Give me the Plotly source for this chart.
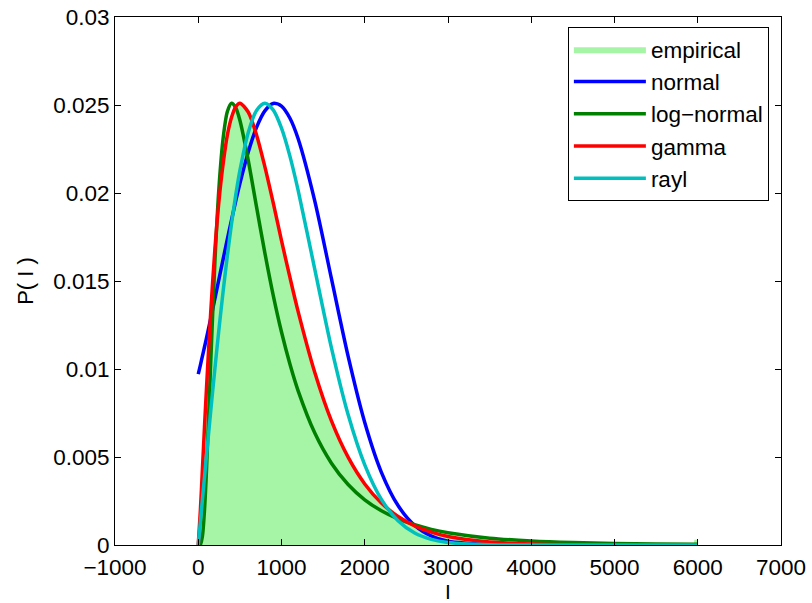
import plotly.graph_objects as go

# ---- data ----
emp_x = [0, 50, 100, 150, 200, 250, 300, 350, 400, 450, 500, 600, 700, 800, 900, 1000,
         1200, 1400, 1600, 1800, 2000, 2200, 2400, 2600, 2800, 3000, 3500, 4000, 4500,
         5000, 5500, 5950, 5960, 6000]
emp_y = [0, 0.0040, 0.0085, 0.0130, 0.0165, 0.0195, 0.0215, 0.0232, 0.0243, 0.0249, 0.0250,
         0.0245, 0.0232, 0.0214, 0.0194, 0.0172, 0.0132, 0.0098, 0.0070, 0.0050, 0.0035,
         0.0025, 0.0017, 0.0011, 0.0007, 0.0005, 0.0002, 0.0001, 0.00005, 0.00003,
         0.00002, 0.00002, 0.0003, 0.0003]

curve_x = [0, 25, 50, 75, 100, 150, 200, 250, 300, 350, 400, 450, 500, 600, 700, 800, 900,
           1000, 1100, 1200, 1400, 1600, 1800, 2000, 2200, 2400, 2600, 2800, 3000, 3500,
           4000, 4500, 5000, 5500, 6000]

normal_y = [0.00971, 0.01021, 0.01073, 0.01125, 0.01179, 0.01288, 0.01400, 0.01513, 0.01627,
            0.01739, 0.01848, 0.01954, 0.02054, 0.02232, 0.02373, 0.02467, 0.02509, 0.02494,
            0.02426, 0.02308, 0.01954, 0.01513, 0.01073, 0.00696, 0.00413, 0.00224, 0.00111,
            0.00051, 0.00021, 0.00002, 0, 0, 0, 0, 0]

lognormal_y = [0, 0.00002, 0.00050, 0.00198, 0.00437, 0.01040, 0.01609, 0.02039, 0.02316,
               0.02463, 0.02510, 0.02485, 0.02413, 0.02187, 0.01921, 0.01660, 0.01420,
               0.01210, 0.01030, 0.00876, 0.00636, 0.00465, 0.00344, 0.00257, 0.00195,
               0.00149, 0.00115, 0.00089, 0.00070, 0.00039, 0.00023, 0.00014, 0.00009,
               0.00006, 0.00004]

gamma_y = [0, 0.00192, 0.00430, 0.00670, 0.00900, 0.01325, 0.01680, 0.01960, 0.02170,
           0.02330, 0.02430, 0.02490, 0.02510, 0.02460, 0.02330, 0.02150, 0.01945, 0.01730,
           0.01523, 0.01326, 0.00980, 0.00705, 0.00499, 0.00347, 0.00238, 0.00162, 0.00109,
           0.00073, 0.00048, 0.00017, 0.00006, 0.00002, 0.00001, 0, 0]

rayl_y = [0, 0.00129, 0.00258, 0.00386, 0.00513, 0.00762, 0.01003, 0.01232, 0.01447,
          0.01645, 0.01826, 0.01987, 0.02127, 0.02343, 0.02469, 0.02510, 0.02472, 0.02368,
          0.02211, 0.02015, 0.01566, 0.01120, 0.00741, 0.00455, 0.00259, 0.00138, 0.00068,
          0.00032, 0.00014, 0.00001, 0, 0, 0, 0, 0]

x_ticks = [-1000, 0, 1000, 2000, 3000, 4000, 5000, 6000, 7000]
y_ticks = [0, 0.005, 0.01, 0.015, 0.02, 0.025, 0.03]
y_tick_text = ["0", "0.005", "0.01", "0.015", "0.02", "0.025", "0.03"]

FONT = "Liberation Sans, Arial, sans-serif"

fig = go.Figure()
fig.add_trace(go.Scatter(x=emp_x, y=emp_y, name="empirical", mode="lines",
                         line=dict(width=0, color="#a6f5a6"), fill="tozeroy",
                         fillcolor="#a6f5a6"))
for name, ys, col in [("normal", normal_y, "#0000ff"),
                      ("log\u2212normal", lognormal_y, "#008000"),
                      ("gamma", gamma_y, "#ff0000"),
                      ("rayl", rayl_y, "#00bfbf")]:
    fig.add_trace(go.Scatter(x=curve_x, y=ys, name=name, mode="lines",
                             line=dict(color=col, width=3.5, shape="spline", smoothing=0.8)))

axis_common = dict(showline=True, linecolor="black", linewidth=1, mirror="ticks",
                   ticks="inside", ticklen=6, tickcolor="black", showgrid=False,
                   zeroline=False, automargin=False,
                   tickfont=dict(family=FONT, size=22.5, color="black"))

fig.update_layout(
    width=812, height=603,
    margin=dict(l=115, r=31, t=17, b=58),
    paper_bgcolor="white", plot_bgcolor="white",
    font=dict(family=FONT, size=22, color="black"),
    xaxis=dict(range=[-1000, 7000], tickvals=x_ticks, ticklabelstandoff=2,
               title=dict(text="I", font=dict(family=FONT, size=21), standoff=6),
               **axis_common),
    yaxis=dict(range=[0, 0.03], tickvals=y_ticks, ticktext=y_tick_text,
               title=dict(text="P( I )", font=dict(family=FONT, size=22), standoff=13),
               **axis_common),
    legend=dict(x=0.68, y=0.981, xanchor="left", yanchor="top",
                bordercolor="black", borderwidth=1, bgcolor="white",
                font=dict(family=FONT, size=22.5), itemwidth=72, tracegroupgap=0),
    showlegend=True,
)

fig.write_html("out.html")
